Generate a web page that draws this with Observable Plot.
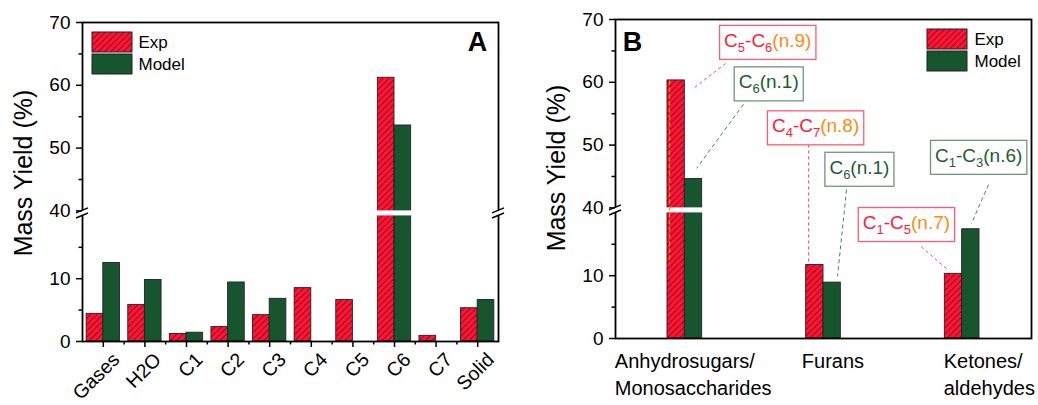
<!DOCTYPE html>
<html><head><meta charset="utf-8">
<script src="https://cdn.jsdelivr.net/npm/d3@7"></script>
<script src="https://cdn.jsdelivr.net/npm/@observablehq/plot@0.6"></script>
<style>
body{margin:0;background:#fff;}
#wrap{display:flex;width:1038px;height:405px;overflow:hidden;}
#wrap svg{overflow:visible;}
</style></head><body><div id="wrap"></div>
<script>
// ---------------- DATA ----------------
const series = ["Exp", "Model"];
const catsA = ["Gases", "H2O", "C1", "C2", "C3", "C4", "C5", "C6", "C7", "Solid"];
const expA = [4.4, 5.8, 1.2, 2.3, 4.2, 8.5, 6.6, 61.2, 0.9, 5.3];
const modelA = [12.5, 9.8, 1.4, 9.4, 6.8, 0, 0, 53.6, 0, 6.6];
const catsB = ["Anhydrosugars/\nMonosaccharides", "Furans", "Ketones/\naldehydes"];
const expB = [60.3, 11.7, 10.3];
const modelB = [44.6, 8.9, 17.4];
const yMajor = [0, 10, 40, 50, 60, 70];
const yMinor = [5, 15, 45, 55, 65];
// annotations of panel B (series, label with _subscripts, note)
const annotSeries = ["Exp", "Model", "Exp", "Model", "Model", "Exp"];
const annotLabel = ["C_5-C_6", "C_6", "C_4-C_7", "C_6", "C_1-C_3", "C_1-C_5"];
const annotNote = ["(n.9)", "(n.1)", "(n.8)", "(n.1)", "(n.6)", "(n.7)"];

// ---------------- LAYOUT (positions in data units) ----------------
const annotX = [0.598, 0.605, 0.943, 1.259, 2.119, 1.598];
const annotY = [66.6, 60.0, 53.0, 46.4, 48.3, 18.4];
const leadX1 = [0.294, 0.423, 0.893, 1.166, 2.19, 1.706];
const leadY1 = [63.0, 56.5, 50.1, 42.9, 43.7, 14.6];
const leadX2 = [0.055, 0.085, 0.893, 1.101, 2.067, 1.894];
const leadY2 = [58.9, 46.3, 11.9, 9.9, 18.3, 11.0];
const orangeX = [-0.11], orangeY1 = [60.2], orangeY2 = [11.9];
const labelXB = [-0.505, 0.844, 1.867];

// ---------------- STYLE ----------------
const NS = "http://www.w3.org/2000/svg";
const RED = "#ff1434", GREEN = "#17552e", HATCH = "#4a0610";
const RED_T = "#ff1a3a", ORANGE = "#ff8a10", GREEN_T = "#1f5a33";
const FONT = "'Liberation Sans', Arial, Helvetica, sans-serif";
const LO = 20, HI = 40, GAP = 0.8;
const brk = v => v <= LO ? v : v - (HI - LO) + GAP;
const unbrk = d => d <= LO + 1e-9 ? d : d + (HI - LO) - GAP;

function defsMark(id) {
  return () => {
    const defs = document.createElementNS(NS, "defs");
    defs.innerHTML = `<pattern id="${id}" patternUnits="userSpaceOnUse" width="4.4" height="4.4" patternTransform="rotate(45)"><rect width="4.4" height="4.4" fill="${RED}"/><line x1="0.5" y1="0" x2="0.5" y2="4.4" stroke="${HATCH}" stroke-width="0.8" stroke-opacity="0.8"/></pattern>`;
    return defs;
  };
}
function slashMark(yDisp, xs) {
  return (index, scales) => {
    const g = document.createElementNS(NS, "g");
    const y = scales.y(yDisp);
    for (const xv of xs) {
      const x = scales.x(xv);
      for (const off of [-2.6, 2.6]) {
        const l = document.createElementNS(NS, "line");
        l.setAttribute("x1", x - 6); l.setAttribute("y1", y + off + 2.5);
        l.setAttribute("x2", x + 6); l.setAttribute("y2", y + off - 2.5);
        l.setAttribute("stroke", "#000"); l.setAttribute("stroke-width", 1.4);
        g.appendChild(l);
      }
    }
    return g;
  };
}
function swatchMark(patId, fromRight, offX) {
  return (index, scales, values, dim) => {
    const g = document.createElementNS(NS, "g");
    const x0 = fromRight ? dim.width - dim.marginRight + offX : dim.marginLeft + offX;
    const y0 = dim.marginTop + 10;
    [[`url(#${patId})`, 0], [GREEN, 22]].forEach(([f, dy]) => {
      const r = document.createElementNS(NS, "rect");
      r.setAttribute("x", x0); r.setAttribute("y", y0 + dy);
      r.setAttribute("width", 40); r.setAttribute("height", 20);
      r.setAttribute("fill", f); r.setAttribute("stroke", "#222"); r.setAttribute("stroke-width", 1);
      g.appendChild(r);
    });
    return g;
  };
}

function rows(cats, exp, model, half) {
  const out = [];
  cats.forEach((c, i) => {
    if (exp[i] > 0) out.push({i, s: "Exp", v: exp[i], x1: i - half, x2: i});
    if (model[i] > 0) out.push({i, s: "Model", v: model[i], x1: i, x2: i + half});
  });
  return out;
}
const tickLabel = d => String(Math.round(unbrk(d)));

function panel(opts) {
  const {cats, exp, model, half, patId, width, margins, slashXs, bandInsetRight, extra, xTicks} = opts;
  const data = rows(cats, exp, model, half);
  const n = cats.length;
  const marks = [
    defsMark(patId),
    Plot.rect(data.filter(d => d.s === "Exp"), {x1: "x1", x2: "x2", y1: () => 0, y2: d => brk(d.v), fill: `url(#${patId})`, stroke: "#222", strokeWidth: 0.9}),
    Plot.rect(data.filter(d => d.s === "Model"), {x1: "x1", x2: "x2", y1: () => 0, y2: d => brk(d.v), fill: GREEN, stroke: "#222", strokeWidth: 0.9}),
    Plot.frame({stroke: "#000", strokeWidth: 1.8}),
    Plot.rect([0], {x1: () => -0.5, x2: () => n - 0.5, y1: () => LO, y2: () => LO + GAP, fill: "white", insetLeft: -5, insetRight: bandInsetRight}),
    Plot.axisY({ticks: yMajor.map(brk), tickFormat: tickLabel, tickSize: 6, tickPadding: 6, strokeWidth: 1.5, fontSize: 19, label: null}),
    Plot.axisY({ticks: yMinor.map(brk), tickSize: 3.5, strokeWidth: 1.5, fill: "none", label: null}),
    slashMark(LO + GAP / 2, slashXs),
    Plot.text(["Mass Yield (%)"], {frameAnchor: "left", dx: -59, dy: opts.titleDy, rotate: -90, fontSize: 25, textAnchor: "middle", lineAnchor: "middle"}),
    ...extra
  ];
  if (xTicks) marks.push(...xTicks);
  return Plot.plot({
    width, height: 405,
    marginLeft: margins[0], marginRight: margins[1], marginTop: margins[2], marginBottom: margins[3],
    x: {domain: [-0.5, n - 0.5], axis: xTicks ? undefined : null},
    y: {domain: [0, brk(70)]},
    style: {fontFamily: FONT, fontSize: "19px", color: "#000", background: "white", overflow: "visible"},
    marks
  });
}

// ---------- Panel A ----------
const svgA = panel({
  cats: catsA, exp: expA, model: modelA, half: 0.4, patId: "hatchA", width: 519,
  margins: [82, 21, 22, 64], slashXs: [-0.5, catsA.length - 0.5], bandInsetRight: -5, titleDy: -9,
  xTicks: [
    Plot.axisX({ticks: d3.range(catsA.length), tickSize: 6, strokeWidth: 1.5, fill: "none", label: null}),
    Plot.axisX({ticks: d3.range(catsA.length - 1).map(i => i + 0.5), tickSize: 3.5, strokeWidth: 1.5, fill: "none", label: null})
  ],
  extra: [
    Plot.text(catsA, {x: (d, i) => i, frameAnchor: "bottom", rotate: -45, textAnchor: "end", lineAnchor: "middle", dx: 13, dy: 15, fontSize: 19.5}),
    swatchMark("hatchA", false, 10),
    Plot.text([series[0]], {frameAnchor: "top-left", dx: 56, dy: 20, textAnchor: "start", lineAnchor: "middle", fontSize: 17}),
    Plot.text([series[1]], {frameAnchor: "top-left", dx: 56, dy: 42, textAnchor: "start", lineAnchor: "middle", fontSize: 17}),
    Plot.text(["A"], {frameAnchor: "top-right", dx: -21, dy: 20, textAnchor: "middle", lineAnchor: "middle", fontSize: 27, fontWeight: "bold"})
  ]
});

// ---------- Panel B ----------
const annIdx = d3.range(annotLabel.length);
const svgB = panel({
  cats: catsB, exp: expB, model: modelB, half: 0.125, patId: "hatchB", width: 519,
  margins: [96, 7, 19, 67], slashXs: [-0.5], bandInsetRight: 2, titleDy: -11,
  xTicks: null,
  extra: [
    Plot.text(catsB, {x: (d, i) => labelXB[i], frameAnchor: "bottom", textAnchor: "start", lineAnchor: "top", dy: 10, fontSize: 20, lineHeight: 1.35}),
    Plot.ruleX(orangeX, {x: d => d, y1: (d, i) => brk(orangeY1[i]), y2: (d, i) => brk(orangeY2[i]), stroke: ORANGE, strokeWidth: 1.2, strokeDasharray: "4,3"}),
    Plot.link(annIdx.filter(i => annotSeries[i] === "Exp"), {x1: i => leadX1[i], y1: i => brk(leadY1[i]), x2: i => leadX2[i], y2: i => brk(leadY2[i]), stroke: "#ff3a5a", strokeWidth: 1, strokeDasharray: "3,3"}),
    Plot.link(annIdx.filter(i => annotSeries[i] === "Model"), {x1: i => leadX1[i], y1: i => brk(leadY1[i]), x2: i => leadX2[i], y2: i => brk(leadY2[i]), stroke: "#4f7d5d", strokeWidth: 1, strokeDasharray: "4,3"}),
    Plot.text(annIdx, {x: i => annotX[i], y: i => brk(annotY[i]), text: i => (annotSeries[i] === "Exp" ? "E" : "M") + "|" + annotLabel[i] + "|" + annotNote[i], fontSize: 19, textAnchor: "middle", lineAnchor: "middle"}),
    swatchMark("hatchB", true, -104),
    Plot.text([series[0]], {frameAnchor: "top-right", dx: -57, dy: 20, textAnchor: "start", lineAnchor: "middle", fontSize: 17}),
    Plot.text([series[1]], {frameAnchor: "top-right", dx: -57, dy: 42, textAnchor: "start", lineAnchor: "middle", fontSize: 17}),
    Plot.text(["B"], {frameAnchor: "top-left", dx: 17, dy: 23, textAnchor: "middle", lineAnchor: "middle", fontSize: 27, fontWeight: "bold"})
  ]
});

const wrap = document.getElementById("wrap");
wrap.appendChild(svgA);
wrap.appendChild(svgB);

// rich text + boxes for annotations
for (const t of Array.from(svgB.querySelectorAll("text"))) {
  const s = t.textContent;
  if (!s.includes("|")) continue;
  const [k, lab, note] = s.split("|");
  const main = k === "E" ? RED_T : GREEN_T;
  const noteC = k === "E" ? ORANGE : GREEN_T;
  while (t.firstChild) t.removeChild(t.firstChild);
  let shifted = false;
  lab.split(/_(\d)/).forEach((p, j) => {
    if (!p) return;
    const ts = document.createElementNS(NS, "tspan");
    ts.textContent = p;
    ts.setAttribute("fill", main);
    if (j % 2 === 1) { ts.setAttribute("font-size", "13"); ts.setAttribute("dy", "5"); shifted = true; }
    else if (shifted) { ts.setAttribute("dy", "-5"); shifted = false; }
    t.appendChild(ts);
  });
  const tn = document.createElementNS(NS, "tspan");
  tn.textContent = note;
  tn.setAttribute("fill", noteC);
  if (shifted) tn.setAttribute("dy", "-5");
  t.appendChild(tn);
  const bb = t.getBBox();
  const r = document.createElementNS(NS, "rect");
  r.setAttribute("x", bb.x - 4.5); r.setAttribute("y", bb.y - 4.5);
  r.setAttribute("width", bb.width + 9); r.setAttribute("height", bb.height + 9);
  r.setAttribute("fill", "white");
  r.setAttribute("stroke", k === "E" ? "#ff5a74" : "#6f977b");
  r.setAttribute("stroke-width", 1.3);
  if (t.getAttribute("transform")) r.setAttribute("transform", t.getAttribute("transform"));
  t.parentNode.insertBefore(r, t);
}
</script></body></html>
